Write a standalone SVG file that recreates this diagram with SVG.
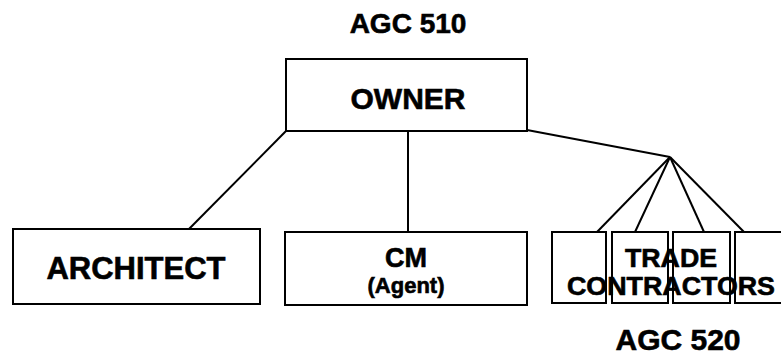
<svg xmlns="http://www.w3.org/2000/svg" width="781" height="360" viewBox="0 0 781 360">
<style>
.box{fill:#fff;stroke:#000;stroke-width:2}
.ln{fill:none;stroke:#000;stroke-width:2}
text{font-family:"Liberation Sans",Arial,sans-serif;font-weight:bold;fill:#000;stroke:#000;stroke-width:0.6;text-anchor:middle}
</style>
<rect width="781" height="360" fill="#fff"/>
<text x="408" y="33" font-size="28">AGC 510</text>
<g id="connectors">
<line class="ln" x1="286" y1="131" x2="189" y2="229"/>
<line class="ln" x1="408" y1="131" x2="408" y2="232"/>
<polyline class="ln" points="527,130 670,157"/>
<line class="ln" x1="670" y1="157" x2="597" y2="232"/>
<line class="ln" x1="670" y1="157" x2="635" y2="232"/>
<line class="ln" x1="670" y1="157" x2="704" y2="232"/>
<line class="ln" x1="670" y1="157" x2="744" y2="232"/>
</g>
<g id="owner">
<rect class="box" x="286" y="59" width="241" height="72"/>
<text x="408" y="109" font-size="30">OWNER</text>
</g>
<g id="architect">
<rect class="box" x="13" y="229" width="247" height="75"/>
<text x="136" y="279" font-size="31">ARCHITECT</text>
</g>
<g id="cm">
<rect class="box" x="285" y="232" width="242" height="73"/>
<text x="406" y="267" font-size="27">CM</text>
<text x="406" y="293" font-size="22">(Agent)</text>
</g>
<g id="trade-contractors">
<rect class="box" x="552" y="232" width="54" height="71"/>
<rect class="box" x="612" y="232" width="56" height="71"/>
<rect class="box" x="673" y="232" width="57" height="71"/>
<rect class="box" x="735" y="232" width="56" height="71"/>
<text x="671" y="267" font-size="25" textLength="92" lengthAdjust="spacingAndGlyphs">TRADE</text>
<text x="671" y="295" font-size="25" textLength="208" lengthAdjust="spacingAndGlyphs">CONTRACTORS</text>
</g>
<text x="678" y="350" font-size="30">AGC 520</text>
</svg>
